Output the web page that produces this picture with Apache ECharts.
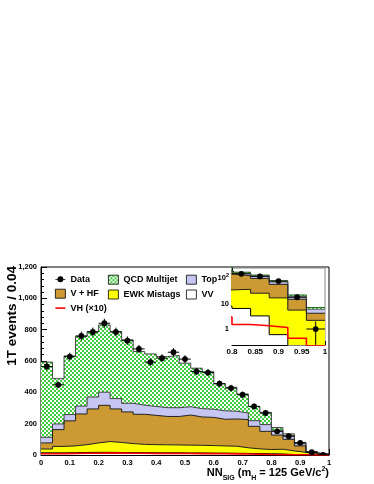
<!DOCTYPE html>
<html>
<head>
<meta charset="utf-8">
<script src="https://cdn.jsdelivr.net/npm/echarts@6.0.0/dist/echarts.min.js"></script>
<style>
  html, body { margin: 0; padding: 0; background: #fff; }
  #chart { width: 374px; height: 484px; }
</style>
</head>
<body>
<div id="chart"></div>
<script>
// NN output bins (lower edges), width 0.04
const binLow = [0.00, 0.04, 0.08, 0.12, 0.16, 0.20, 0.24, 0.28, 0.32, 0.36, 0.40, 0.44, 0.48,
  0.52, 0.56, 0.60, 0.64, 0.68, 0.72, 0.76, 0.80, 0.84, 0.88, 0.92, 0.96];
const binWidth = 0.04;

// observed events and their errors
const dataObs = [565, 448, 628, 760, 785, 841, 785, 730, 677, 593, 618, 656, 612, 533, 526, 455, 427, 385, 310, 268, 151, 120, 78, 18, 1];
const dataErr = [24, 21, 25, 28, 28, 29, 28, 27, 26, 24, 25, 26, 25, 23, 23, 21, 21, 20, 18, 16, 12, 11, 9, 4, 1];

// backgrounds, bottom of the stack first
const vv = [14, 14, 15, 16, 17, 17, 16, 15, 15, 14, 14, 14, 13, 13, 12, 12, 11, 10, 9, 8, 6.5, 3.3, 0.6, 0.15, 0.1];
const ewk = [24, 41, 43, 50, 60, 69, 64, 58, 53, 52, 51, 50, 50, 49, 48, 46, 45, 36, 30, 27, 30.5, 22.7, 16.4, 5.45, 2.1];
const vhf = [39, 107, 160, 196, 217, 231, 214, 202, 192, 187, 181, 182, 192, 181, 180, 170, 174, 180, 144, 116, 90, 74, 41, 9.4, 2];
const topq = [36, 36, 40, 50, 76, 84, 66, 55, 58, 57, 56, 56, 53, 53, 52, 54, 49, 42, 36, 43, 31, 25, 14, 4, 1.8];
const qcd = [480, 289, 374, 444, 418, 429, 428, 405, 342, 335, 326, 333, 278, 258, 239, 173, 153, 121, 91, 78, 17, 10, 8, 3, 1];

// signal scaled x10
const vh10 = [8, 9, 10, 11, 11, 12, 12, 11, 11, 10, 10, 10, 10, 9, 9, 8, 7, 6, 5, 3, 1.5, 1.35, 1.15, 0.43, 0.22];

const FONT = '"Liberation Sans", Arial, Helvetica, sans-serif';
const INSET_MIN = 0.234;
const INSET_MAX = 257;

function checker() {
  const c = document.createElement('canvas');
  c.width = 4;
  c.height = 4;
  const g = c.getContext('2d');
  g.fillStyle = '#ffffff';
  g.fillRect(0, 0, 4, 4);
  g.fillStyle = '#40cc40';
  g.fillRect(0, 0, 2, 2);
  g.fillRect(2, 2, 2, 2);
  return c;
}
const qcdFill = { image: checker(), repeat: 'repeat' };

const colors = {
  vv: '#ffffff',
  ewk: '#ffff00',
  vhf: '#cc9933',
  top: '#c6c6f2',
  vh: '#ff0000'
};

// THStack style: each layer drawn as the running sum, tallest first
function runningSum(layers) {
  const out = [];
  let acc = binLow.map(() => 0);
  layers.forEach(l => {
    acc = acc.map((v, i) => v + l[i]);
    out.push(acc);
  });
  return out;
}
const [cumVV, cumEWK, cumVHF, cumTop, cumQCD] = runningSum([vv, ewk, vhf, topq, qcd]);

function stepData(values) {
  const pts = binLow.map((x, i) => [x, values[i]]);
  pts.push([1, values[values.length - 1]]);
  return pts;
}

function histSeries(name, values, fill, edge, grid) {
  return {
    type: 'line',
    name: name,
    xAxisIndex: grid,
    yAxisIndex: grid,
    step: 'end',
    symbol: 'none',
    silent: true,
    clip: true,
    data: stepData(values),
    itemStyle: { color: fill },
    lineStyle: { color: edge, width: 1 },
    areaStyle: { color: fill, opacity: 1, origin: 'start' },
    emphasis: { disabled: true }
  };
}

function dataRenderer(lo) {
  return function (params, api) {
    const x0 = api.value(0);
    const y = api.value(1);
    const e = api.value(2);
    const c = api.coord([x0 + binWidth / 2, y]);
    const l = api.coord([x0, y]);
    const r = api.coord([x0 + binWidth, y]);
    const t = api.coord([x0 + binWidth / 2, y + e]);
    const b = api.coord([x0 + binWidth / 2, Math.max(y - e, lo)]);
    const st = { stroke: '#000', lineWidth: 1 };
    return {
      type: 'group',
      children: [
        { type: 'line', shape: { x1: l[0], y1: c[1], x2: r[0], y2: c[1] }, style: st },
        { type: 'line', shape: { x1: c[0], y1: t[1], x2: c[0], y2: b[1] }, style: st },
        { type: 'circle', shape: { cx: c[0], cy: c[1], r: 2.9 }, style: { fill: '#000' } }
      ]
    };
  };
}

function dataSeries(grid, lo) {
  return {
    type: 'custom',
    name: 'Data',
    xAxisIndex: grid,
    yAxisIndex: grid,
    clip: true,
    silent: true,
    z: 5,
    itemStyle: { color: '#000' },
    encode: { x: 0, y: 1 },
    data: binLow.map((x, i) => [x, dataObs[i], dataErr[i]]),
    renderItem: dataRenderer(lo)
  };
}

function vhSeries(grid) {
  return {
    type: 'line',
    name: 'VH (×10)',
    xAxisIndex: grid,
    yAxisIndex: grid,
    step: 'end',
    symbol: 'none',
    silent: true,
    clip: true,
    z: 4,
    data: stepData(vh10),
    itemStyle: { color: colors.vh },
    lineStyle: { color: colors.vh, width: 1.6 }
  };
}

function layerSeries(grid, qcdEdge, topEdge) {
  return [
    histSeries('QCD Multijet', cumQCD, qcdFill, qcdEdge, grid),
    histSeries('Top', cumTop, colors.top, topEdge, grid),
    histSeries('V + HF', cumVHF, colors.vhf, '#222', grid),
    histSeries('EWK Mistags', cumEWK, colors.ewk, '#222', grid),
    histSeries('VV', cumVV, colors.vv, '#000', grid),
    vhSeries(grid)
  ];
}

const labelStyle = { color: '#000', fontFamily: FONT, fontWeight: 'bold' };
const legendText = { color: '#000', fontFamily: FONT, fontWeight: 'bold', fontSize: 9 };
const boxStyle = (fill) => ({ color: fill, borderColor: '#000', borderWidth: 0.8 });

// log minor ticks for the inset
const insetMinor = [];
[0.1, 1, 10, 100].forEach(d => {
  for (let k = 2; k <= 9; k++) {
    const v = +(d * k).toPrecision(3);
    if (v > INSET_MIN && v < INSET_MAX) insetMinor.push(v);
  }
});

const chart = echarts.init(document.getElementById('chart'), null, { renderer: 'canvas' });

chart.setOption({
  animation: false,
  backgroundColor: '#fff',
  textStyle: { fontFamily: FONT },
  grid: [
    { left: 41, top: 267, right: 45, bottom: 29, show: true, borderColor: '#000', borderWidth: 1, backgroundColor: 'transparent' },
    { left: 232, top: 268, right: 49, bottom: 139, show: true, borderColor: '#888', borderWidth: 1, backgroundColor: '#fff' }
  ],
  xAxis: [
    {
      type: 'value', gridIndex: 0, min: 0, max: 1, interval: 0.1,
      axisLine: { lineStyle: { color: '#000', width: 1 } },
      axisTick: { inside: true, length: 6, lineStyle: { color: '#000' } },
      minorTick: { show: true, splitNumber: 5, length: 3, lineStyle: { color: '#000' } },
      splitLine: { show: false },
      axisLabel: Object.assign({ fontSize: 7.5, margin: 4 }, labelStyle)
    },
    {
      type: 'value', gridIndex: 1, min: 0.8, max: 1, interval: 0.05,
      axisLine: { lineStyle: { color: '#000', width: 1 } },
      axisTick: { inside: true, length: 4, lineStyle: { color: '#000' } },
      minorTick: { show: true, splitNumber: 5, length: 2, lineStyle: { color: '#000' } },
      splitLine: { show: false },
      axisLabel: Object.assign({ fontSize: 8, margin: 3 }, labelStyle)
    }
  ],
  yAxis: [
    {
      type: 'value', gridIndex: 0, min: 0, max: 1200, interval: 200,
      axisLine: { show: true, lineStyle: { color: '#000', width: 1 } },
      axisTick: { show: true, inside: true, length: 6, lineStyle: { color: '#000' } },
      minorTick: { show: true, splitNumber: 5, length: 3, lineStyle: { color: '#000' } },
      splitLine: { show: false },
      axisLabel: Object.assign({ fontSize: 7.5, margin: 4 }, labelStyle)
    },
    {
      type: 'log', logBase: 10, gridIndex: 1, min: INSET_MIN, max: INSET_MAX,
      axisLine: { show: true, lineStyle: { color: '#000', width: 1 } },
      axisTick: { show: true, inside: true, length: 4, customValues: [1, 10, 100], lineStyle: { color: '#000' } },
      splitLine: { show: false },
      axisLabel: Object.assign({
        fontSize: 7.5, margin: 3,
        customValues: [1, 10, 100],
        formatter: v => {
          if (Math.abs(v - 100) < 1e-6) return '10{sup|2}';
          if (Math.abs(v - 10) < 1e-6) return '10';
          if (Math.abs(v - 1) < 1e-6) return '1';
          return '';
        },
        rich: { sup: { fontSize: 5.5, fontWeight: 'bold', fontFamily: FONT, color: '#000', padding: [0, 0, 5, 0] } }
      }, labelStyle)
    },
    {
      type: 'log', logBase: 10, gridIndex: 1, min: INSET_MIN, max: INSET_MAX, position: 'left',
      axisLine: { show: false },
      axisTick: { show: true, inside: true, length: 2, customValues: insetMinor, lineStyle: { color: '#000' } },
      axisLabel: { show: false },
      splitLine: { show: false }
    }
  ],
  legend: [
    {
      orient: 'vertical', left: 55, top: 274.8, itemWidth: 10, itemHeight: 9, itemGap: 5, padding: 0,
      selectedMode: false, textStyle: legendText,
      data: [
        { name: 'Data', icon: 'path://M0,2.6 H2.2 V3.4 H0 Z M7.8,2.6 H10 V3.4 H7.8 Z M8,3 A3,3 0 1 1 2,3 A3,3 0 1 1 8,3 Z', itemStyle: { color: '#000', borderWidth: 0 } },
        { name: 'V + HF', icon: 'rect', itemStyle: boxStyle(colors.vhf) },
        { name: 'VH (×10)', icon: 'path://M0,0 H10 V1.6 H0 Z', itemStyle: { color: colors.vh, borderWidth: 0 } }
      ]
    },
    {
      orient: 'vertical', left: 108, top: 274.8, itemWidth: 10, itemHeight: 9, itemGap: 5, padding: 0,
      selectedMode: false, textStyle: legendText,
      data: [
        { name: 'QCD Multijet', icon: 'rect', itemStyle: boxStyle(qcdFill) },
        { name: 'EWK Mistags', icon: 'rect', itemStyle: boxStyle(colors.ewk) }
      ]
    },
    {
      orient: 'vertical', left: 186, top: 274.8, itemWidth: 10, itemHeight: 9, itemGap: 5, padding: 0,
      selectedMode: false, textStyle: legendText,
      data: [
        { name: 'Top', icon: 'rect', itemStyle: boxStyle(colors.top) },
        { name: 'VV', icon: 'rect', itemStyle: boxStyle(colors.vv) }
      ]
    }
  ],
  graphic: [
    {
      type: 'text', x: 12.5, y: 266, rotation: Math.PI / 2, silent: true,
      style: {
        text: '1T events / 0.04', fill: '#000',
        font: 'bold 13.5px ' + FONT,
        align: 'right', textAlign: 'right', verticalAlign: 'middle', textVerticalAlign: 'middle'
      }
    },
    {
      type: 'text', x: 329, y: 472.5, silent: true,
      style: {
        text: 'NN{sub|SIG} (m{sub|H} = 125 GeV/c{sup|2})', fill: '#000',
        font: 'bold 11px ' + FONT,
        align: 'right', textAlign: 'right', verticalAlign: 'middle', textVerticalAlign: 'middle',
        rich: {
          sub: { fontSize: 7, fontWeight: 'bold', fontFamily: FONT, fill: '#000', padding: [11, 0, 0, 0] },
          sup: { fontSize: 7, fontWeight: 'bold', fontFamily: FONT, fill: '#000', padding: [0, 0, 6, 0] }
        }
      }
    }
  ],
  series: [].concat(
    layerSeries(0, '#444', '#444'),
    [dataSeries(0, 0)],
    layerSeries(1, '#0a5a0a', '#666'),
    [dataSeries(1, INSET_MIN * 1.01)]
  )
});
</script>
</body>
</html>
